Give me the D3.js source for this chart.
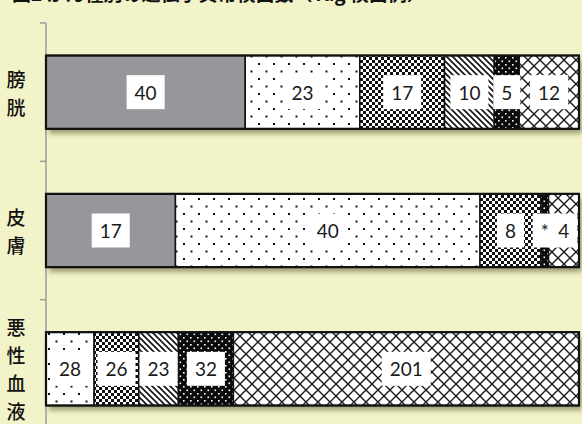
<!DOCTYPE html>
<html><head><meta charset="utf-8">
<script src="https://cdn.jsdelivr.net/npm/d3@7"></script>
<style>html,body{margin:0;padding:0;background:#F3F3C9;}svg{display:block;}</style>
</head><body>
<svg id="c" width="582" height="424"></svg>
<script>
// ---- data ----
const categories = ["膀胱", "皮膚", "悪性血液"];
const seriesKeys = ["s1", "s2", "s3", "s4", "s5", "s6"];
const bladderValues = [40, 23, 17, 10, 5, 12];
const skinValues = [17, 40, 8, 0, 1, 4];
const bloodValues = [0, 28, 26, 23, 32, 201];
const bladderLabels = ["40", "23", "17", "10", "5", "12"];
const skinLabels = ["17", "40", "8", "", "*", "4"];
const bloodLabels = ["", "28", "26", "23", "32", "201"];
const titleText = "図2 がん種別の遺伝子異常検出数（Tag 検出例）";

const valueRows = [bladderValues, skinValues, bloodValues];
const labelRows = [bladderLabels, skinLabels, bloodLabels];
const data = categories.map((c, i) => {
  const o = {cat: c};
  seriesKeys.forEach((k, j) => { o[k] = valueRows[i][j]; o[k + "_label"] = labelRows[i][j]; });
  return o;
});

// ---- drawing ----
const W = 582, H = 424;
const svg = d3.select("#c");
svg.append("rect").attr("width", W).attr("height", H).attr("fill", "#F3F3C9");

const defs = svg.append("defs");
const f = defs.append("filter").attr("id", "sh").attr("x", "-5%").attr("y", "-30%").attr("width", "115%").attr("height", "170%");
f.append("feDropShadow").attr("dx", 3).attr("dy", 5).attr("stdDeviation", 2.5)
  .attr("flood-color", "#5c5c32").attr("flood-opacity", 0.55);

function pat(id, w, h, build) {
  const p = defs.append("pattern").attr("id", id).attr("patternUnits", "userSpaceOnUse")
    .attr("width", w).attr("height", h);
  build(p);
}
pat("p_s1", 10, 10, p => p.append("rect").attr("width", 10).attr("height", 10).attr("fill", "#97979B"));
pat("p_s2", 15, 15, p => {
  p.append("rect").attr("width", 15).attr("height", 15).attr("fill", "#fff");
  p.append("rect").attr("x", 3).attr("y", 3).attr("width", 2).attr("height", 2).attr("fill", "#111");
  p.append("rect").attr("x", 10.5).attr("y", 10.5).attr("width", 2).attr("height", 2).attr("fill", "#111");
});
pat("p_s3", 6, 6, p => {
  p.append("rect").attr("width", 6).attr("height", 6).attr("fill", "#fff");
  p.append("rect").attr("width", 3).attr("height", 3).attr("fill", "#111");
  p.append("rect").attr("x", 3).attr("y", 3).attr("width", 3).attr("height", 3).attr("fill", "#111");
});
pat("p_s4", 6, 6, p => {
  p.append("rect").attr("width", 6).attr("height", 6).attr("fill", "#fff");
  p.append("path").attr("d", "M-1,-1L7,7M-4,2L2,8M2,-4L8,2").attr("stroke", "#111").attr("stroke-width", 1.6);
});
pat("p_s5", 7, 7, p => {
  p.append("rect").attr("width", 7).attr("height", 7).attr("fill", "#0a0a0a");
  p.append("rect").attr("x", 1).attr("y", 1).attr("width", 1.6).attr("height", 1.6).attr("fill", "#fff");
  p.append("rect").attr("x", 4.5).attr("y", 4.5).attr("width", 1.6).attr("height", 1.6).attr("fill", "#fff");
});
pat("p_s6", 12, 12, p => {
  p.append("rect").attr("width", 12).attr("height", 12).attr("fill", "#fff");
  p.append("path").attr("d", "M0,0L12,12M12,0L0,12M-1,11L1,13M11,-1L13,1").attr("stroke", "#1a1a1a").attr("stroke-width", 1.4);
});

// title (mostly cropped at top, as in the reference)
svg.append("text").attr("x", 12).attr("y", 0.5).attr("font-family", "'Noto Sans CJK JP', sans-serif")
  .attr("font-weight", "bold").attr("font-size", 19).attr("fill", "#111").text(titleText);

const x = d3.scaleLinear().domain([0, 1]).range([46, 579]);
const yOuter = d3.scaleBand().domain(categories).range([23, 438]).padding(0);
const y = d3.scaleBand().domain(categories).range([23, 438]).paddingInner(0.47).paddingOuter(0.235);

// axis
const ax = svg.append("g");
ax.append("line").attr("x1", 46).attr("x2", 46).attr("y1", yOuter(categories[0])).attr("y2", H)
  .attr("stroke", "#9c9c9c").attr("stroke-width", 1.5);
ax.selectAll("line.t").data(categories).join("line").attr("class", "t")
  .attr("x1", 40).attr("x2", 46).attr("y1", d => yOuter(d)).attr("y2", d => yOuter(d))
  .attr("stroke", "#9c9c9c").attr("stroke-width", 1.5);

// category labels (vertical)
categories.forEach(c => {
  const chars = Array.from(c);
  const cy = y(c) + y.bandwidth() / 2;
  const t = svg.append("text").attr("font-family", "'Noto Sans CJK JP', sans-serif")
    .attr("font-size", 19).attr("font-weight", 500).attr("fill", "#111").attr("text-anchor", "middle");
  chars.forEach((ch, i) => {
    t.append("tspan").attr("x", 16).attr("y", cy + (i - (chars.length - 1) / 2) * 28)
      .attr("dominant-baseline", "central").text(ch);
  });
});

const stack = d3.stack().keys(seriesKeys).offset(d3.stackOffsetExpand);
const stacked = stack(data);

categories.forEach((c, ci) => {
  const y0 = y(c), bh = y.bandwidth();
  const g = svg.append("g");
  g.append("rect").attr("x", x(0)).attr("y", y0).attr("width", x(1) - x(0)).attr("height", bh)
    .attr("fill", "#000").attr("filter", "url(#sh)");
  stacked.forEach(s => {
    const d = s[ci];
    if (d.data[s.key] <= 0) return;
    g.append("rect").attr("x", x(d[0])).attr("y", y0).attr("width", x(d[1]) - x(d[0])).attr("height", bh)
      .attr("fill", `url(#p_${s.key})`).attr("stroke", "#111").attr("stroke-width", 1.5);
  });
  g.append("rect").attr("x", x(0)).attr("y", y0).attr("width", x(1) - x(0)).attr("height", bh)
    .attr("fill", "none").attr("stroke", "#111").attr("stroke-width", 2.2);
  // labels
  const cy = y0 + bh / 2;
  stacked.forEach(s => {
    const d = s[ci];
    const lab = d.data[s.key + "_label"];
    if (!lab || d.data[s.key] <= 0) return;
    const cx = (x(d[0]) + x(d[1])) / 2;
    const bg = g.append("rect").attr("fill", "#fff");
    const t = g.append("text").attr("x", cx).attr("y", cy).attr("text-anchor", "middle")
      .attr("dominant-baseline", "central").attr("font-family", "Lato, 'Open Sans', sans-serif")
      .attr("font-size", 19).attr("fill", "#1a1a1a").text(lab);
    const tw = t.node().getComputedTextLength();
    bg.attr("x", cx - tw / 2 - 8).attr("y", cy - 17).attr("width", tw + 16).attr("height", 34);
  });
});
</script>
</body></html>
